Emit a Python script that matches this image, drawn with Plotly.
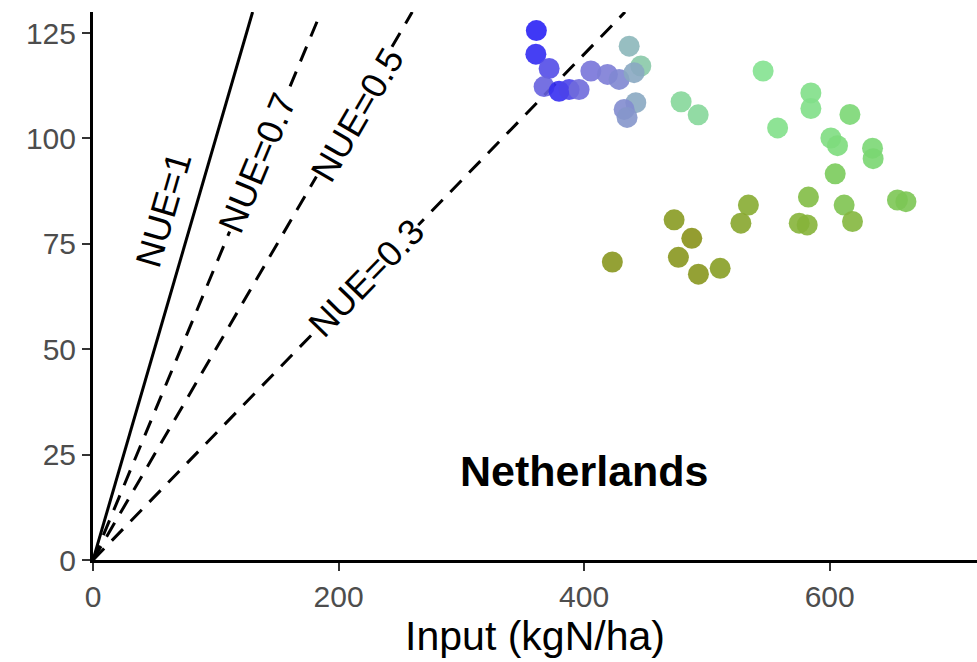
import math
import plotly.graph_objects as go

# --- data ---
input_n = [361.1, 360.7, 371.5, 367.4, 379.6, 387.8, 395.9, 405.5, 419.0, 428.5,
           436.7, 446.2, 440.7, 442.1, 432.6, 435.0,
           545.8, 479.0, 492.9, 557.6, 584.7, 584.7, 616.5, 601.0, 606.4, 634.9,
           635.4, 604.5, 582.7, 611.8, 618.6, 655.2, 662.1, 575.2, 581.7,
           533.8, 527.7, 473.3, 487.7, 476.8, 493.1, 510.8, 423.0]
output_n = [125.6, 120.0, 116.6, 112.3, 111.2, 111.6, 111.6, 116.0, 115.2, 114.0,
            121.9, 117.2, 115.6, 108.5, 106.9, 105.0,
            116.0, 108.7, 105.6, 102.5, 110.8, 107.1, 105.7, 100.1, 98.3, 97.7,
            95.2, 91.6, 86.1, 84.2, 80.3, 85.4, 85.0, 79.9, 79.5,
            84.2, 79.9, 80.7, 76.3, 71.8, 67.8, 69.2, 70.7]
colour_value = [0.00, 0.02, 0.10, 0.15, 0.03, 0.08, 0.17, 0.19, 0.21, 0.23,
                0.33, 0.38, 0.30, 0.30, 0.24, 0.26,
                0.45, 0.42, 0.42, 0.47, 0.48, 0.48, 0.55, 0.50, 0.52, 0.55,
                0.56, 0.65, 0.75, 0.70, 0.78, 0.68, 0.68, 0.80, 0.80,
                0.85, 0.88, 0.95, 1.00, 0.97, 0.97, 0.93, 0.97]
nue_values = [1.0, 0.7, 0.5, 0.3]
nue_labels = ["NUE=1", "NUE=0.7", "NUE=0.5", "NUE=0.3"]
label_x = [57.6, 134.1, 215.4, 222.9]
label_y = [83.1, 94.2, 105.6, 66.9]
x_ticks = [0, 200, 400, 600]
y_ticks = [0, 25, 50, 75, 100, 125]
country = "Netherlands"

X_MAX, Y_MAX = 720, 130
W, H = 977, 662
M = dict(l=93, r=0, t=12, b=102)

colorscale = [[0.0, "#2a22f5"], [0.2, "#7c78d8"], [0.32, "#8db3bd"],
              [0.45, "#84e290"], [0.6, "#76d266"], [0.8, "#86b43a"], [1.0, "#88921a"]]

fig = go.Figure()

# NUE reference lines
for v in nue_values:
    x_end = min(X_MAX, Y_MAX / v)
    fig.add_trace(go.Scatter(
        x=[0, x_end], y=[0, v * x_end], mode="lines",
        line=dict(color="black", width=3, dash="solid" if v == 1.0 else "16px,11px"),
        hoverinfo="skip", showlegend=False))

fig.add_trace(go.Scatter(
    x=input_n, y=output_n, mode="markers",
    marker=dict(size=21, color=colour_value, colorscale=colorscale, cmin=0, cmax=1,
                opacity=0.9, line=dict(width=0)),
    showlegend=False))

# angle of each line on screen
pw = W - M["l"] - M["r"]
ph = H - M["t"] - M["b"]
for v, lab, lx, ly in zip(nue_values, nue_labels, label_x, label_y):
    ang = math.degrees(math.atan((v * ph / Y_MAX) / (pw / X_MAX)))
    fig.add_annotation(x=lx, y=ly, text=lab, showarrow=False, textangle=-ang,
                       font=dict(family="Liberation Sans, Arial", size=36, color="black"),
                       bgcolor=None if v == 1.0 else "white", borderpad=0)

fig.add_annotation(x=400, y=21, text="<b>%s</b>" % country, showarrow=False,
                   font=dict(family="Liberation Sans, Arial", size=43, color="black"))

fig.update_layout(
    width=W, height=H, margin=M, plot_bgcolor="white", paper_bgcolor="white",
    font=dict(family="Liberation Sans, Arial"),
    xaxis=dict(range=[0, X_MAX], tickvals=x_ticks, showgrid=False, zeroline=False,
               showline=True, linecolor="black", linewidth=3, automargin=False,
               ticks="outside", ticklen=8, tickwidth=2, tickcolor="#333333",
               tickfont=dict(size=30, color="#4d4d4d"),
               title=dict(text="Input (kgN/ha)", font=dict(size=41, color="black"), standoff=2)),
    yaxis=dict(range=[0, Y_MAX], tickvals=y_ticks, showgrid=False, zeroline=False,
               showline=True, linecolor="black", linewidth=3, automargin=False,
               ticks="outside", ticklen=8, tickwidth=2, tickcolor="#333333",
               tickfont=dict(size=30, color="#4d4d4d")),
)

fig.write_html("out.html", config={"displayModeBar": False},
               post_script="document.body.style.margin='0';document.body.style.overflow='hidden';")
